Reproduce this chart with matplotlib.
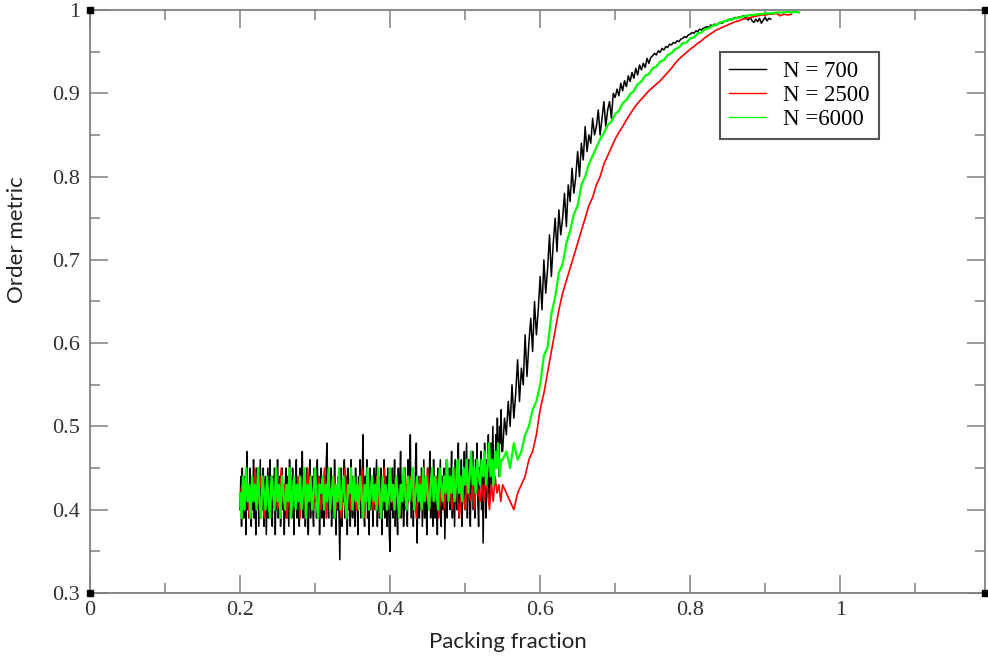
import numpy as np
import matplotlib
matplotlib.use("Agg")
import matplotlib.pyplot as plt
from matplotlib.ticker import MultipleLocator, FuncFormatter

# ---------------- data ----------------
labels = ["N = 700", "N = 2500", "N =6000"]
colors = ["black", "#ff0000", "#00ff00"]

# each series: flat part (start, step) and rising part (start, step)
black_grid = (0.200, 0.001, 0.550, 0.0025)
red_grid = (0.200, 0.0025, 0.555, 0.005)
green_grid = (0.200, 0.002, 0.550, 0.005)

black_flat = [
    .40, .44, .38, .45, .41, .39, .44, .42, .37, .47, .40, .43, .39, .45, .41, .38, .44, .40, .46, .39,
    .43, .37, .45, .41, .44, .38, .42, .46, .39, .43, .40, .45, .38, .42, .44, .37, .41, .45, .39, .43,
    .46, .40, .42, .38, .44, .41, .45, .37, .43, .40, .46, .39, .42, .44, .38, .41, .45, .40, .43, .37,
    .42, .45, .39, .44, .41, .38, .46, .40, .43, .39, .45, .42, .37, .44, .40, .46, .39, .43, .41, .38,
    .45, .40, .43, .47, .39, .42, .44, .38, .41, .45, .40, .37, .43, .46, .39, .42, .44, .40, .38, .45,
    .41, .43, .39, .46, .40, .44, .37, .42, .45, .39, .43, .41, .38, .44, .40, .46, .48, .41, .39, .43,
    .40, .45, .38, .42, .44, .39, .46, .41, .37, .43, .40, .44, .39, .34, .42, .45, .38, .43, .41, .46,
    .39, .42, .44, .37, .45, .40, .43, .38, .46, .41, .39, .44, .42, .38, .45, .40, .43, .37, .44, .41,
    .46, .39, .42, .45, .49, .40, .38, .44, .41, .46, .39, .43, .37, .45, .40, .42, .44, .38, .41, .45,
    .40, .43, .46, .38, .42, .44, .39, .41, .45, .37, .43, .40, .46, .39, .42, .44, .38, .45, .41, .37,
    .35, .43, .40, .45, .39, .42, .46, .38, .44, .41, .37, .45, .40, .43, .47, .39, .42, .44, .38, .41,
    .45, .40, .43, .38, .46, .41, .44, .49, .39, .42, .45, .38, .43, .40, .46, .48, .36, .42, .44, .39,
    .43, .40, .45, .38, .42, .46, .39, .44, .41, .37, .45, .40, .43, .47, .39, .42, .44, .38, .46, .41,
    .39, .44, .42, .37, .45, .40, .43, .46, .38, .42, .44, .40, .45, .365, .41, .46, .39, .43, .41, .45,
    .40, .43, .47, .39, .44, .41, .38, .46, .42, .40, .45, .48, .39, .43, .41, .46, .38, .44, .42, .47,
    .40, .44, .48, .39, .43, .46, .41, .38, .45, .42, .47, .40, .44, .39, .46, .42, .48, .41, .38, .45,
    .43, .47, .40, .45, .36, .42, .48, .44, .39, .46, .43, .49, .41, .45, .48, .42, .46, .50, .44, .47,
    .45, .49, .46, .51, .47, .44, .50, .48, .52, .47,
]
black_rise = [
    .47, .51, .49, .53, .50, .55, .51, .54, .58, .53, .57, .55, .61, .56, .60, .63, .59, .65, .61, .64,
    .68, .64, .70, .66, .69, .73, .68, .72, .75, .71, .76, .73, .75, .78, .74, .79, .77, .81, .78, .80,
    .83, .80, .84, .82, .86, .83, .85, .84, .87, .85, .86, .88, .85, .87, .89, .86, .88, .89, .87, .90,
    .895, .905, .897, .912, .903, .915, .908, .921, .914, .925, .918, .930, .922, .934, .928, .936, .931, .942, .936, .943,
    .945, .948, .946, .951, .949, .954, .952, .956, .955, .959, .958, .961, .960, .963, .962, .965, .966, .968, .967, .970,
    .971, .973, .972, .975, .974, .977, .976, .978, .979, .980, .979, .982, .981, .983, .982, .984, .985, .984, .986, .987,
    .987, .989, .988, .990, .991, .990, .992, .991, .993, .992, .990, .988, .991, .987, .985, .989, .986, .990, .984, .988,
    .991, .987, .990, .989,
]

red_flat = [
    .41, .43, .40, .44, .42, .39, .43, .41, .45, .40, .42, .44, .41, .39, .43, .42, .40, .44, .41, .43,
    .40, .42, .45, .41, .43, .39, .42, .44, .40, .43, .41, .44, .39, .42, .43, .40, .45, .41, .42, .40,
    .43, .41, .44, .40, .42, .45, .39, .43, .41, .42, .44, .40, .43, .41, .39, .42, .45, .41, .43, .40,
    .42, .44, .40, .43, .41, .45, .39, .42, .44, .41, .43, .40, .42, .44, .41, .39, .43, .45, .40, .42,
    .41, .43, .40, .44, .42, .39, .43, .41, .45, .40, .42, .44, .41, .43, .39, .42, .44, .40, .43, .41,
    .45, .40, .42, .43, .41, .44, .39, .42, .43, .40, .44, .41, .43, .40, .42, .45, .41, .39, .43, .42,
    .40, .44, .42, .41, .43, .40, .44, .42, .41, .43, .41, .44, .42, .40, .43, .41, .44, .42, .43, .41,
    .43,
]
red_rise = [
    .42, .41, .40, .42, .43, .44, .46, .47, .49, .52,
    .54, .565, .59, .615, .64, .66, .675, .69, .705, .72,
    .735, .75, .765, .775, .79, .80, .815, .825, .835, .845,
    .853, .86, .868, .875, .882, .888, .893, .898, .903, .907,
    .911, .915, .920, .925, .930, .936, .941, .945, .949, .953,
    .956, .960, .963, .967, .970, .973, .976, .978, .980, .982,
    .984, .986, .987, .989, .990, .991, .992, .993, .994, .994,
    .995, .995, .996, .993, .995, .994, .995,
]

green_flat = [
    .42, .39, .44, .40, .45, .41, .43, .39, .44, .41, .43, .40, .45, .41, .39, .44, .42, .40, .44, .41,
    .39, .44, .42, .40, .45, .41, .43, .39, .44, .42, .40, .43, .41, .45, .39, .42, .44, .40, .43, .41,
    .44, .40, .42, .45, .39, .43, .41, .44, .40, .42, .45, .41, .39, .43, .42, .44, .40, .43, .41, .45,
    .40, .42, .44, .39, .43, .41, .45, .40, .42, .44, .41, .39, .43, .42, .45, .40, .44, .41, .43, .40,
    .44, .42, .39, .43, .41, .45, .40, .42, .44, .41, .43, .40, .45, .42, .39, .44, .41, .43, .40, .42,
    .45, .41, .43, .40, .44, .42, .39, .43, .41, .45, .42, .40, .44, .41, .43, .45, .40, .42, .44, .41,
    .43, .40, .45, .41, .44, .42, .40, .43, .45, .41, .44, .42, .40, .45, .43, .41, .44, .42, .46, .41,
    .44, .42, .45, .41, .43, .46, .42, .44, .41, .45, .43, .46, .42, .44, .47, .43, .45, .42, .46, .44,
    .43, .46, .44, .47, .43, .45, .48, .44, .46, .43, .47, .45, .48, .44, .46,
]
green_rise = [
    .46, .47, .45, .48, .46, .47, .49, .50, .52, .53,
    .55, .585, .595, .635, .655, .685, .695, .72, .735, .755,
    .765, .79, .80, .815, .825, .835, .845, .852, .862, .866,
    .875, .879, .888, .892, .899, .903, .911, .914, .921, .923,
    .930, .932, .938, .940, .946, .948, .953, .955, .960, .961,
    .966, .967, .972, .973, .977, .978, .981, .982, .985, .986,
    .988, .989, .990, .991, .992, .993, .994, .994, .995, .995,
    .996, .996, .996, .997, .997, .997, .998, .997, .998, .997,
]

x_ticks = [0, 0.2, 0.4, 0.6, 0.8, 1.0]
y_ticks = [0.3, 0.4, 0.5, 0.6, 0.7, 0.8, 0.9, 1.0]
x_label = "Packing fraction"
y_label = "Order metric"


def series_xy(flat, rise, grid):
    fs, fstep, rs, rstep = grid
    xf = fs + fstep * np.arange(len(flat))
    xr = rs + rstep * np.arange(len(rise))
    return np.concatenate([xf, xr]), np.concatenate([flat, rise])


series = [(black_flat, black_rise, black_grid, 1.1),
          (red_flat, red_rise, red_grid, 1.2),
          (green_flat, green_rise, green_grid, 1.6)]

# ---------------- figure ----------------
W, H = 988, 660
fig = plt.figure(figsize=(W / 100, H / 100), dpi=100)
ax = fig.add_axes([90 / W, 67 / H, 895 / W, 583 / H])

for (fl, rs, grid, lw), c, lab in zip(series, colors, labels):
    xs, ys = series_xy(fl, rs, grid)
    ax.plot(xs, ys, color=c, lw=lw, label=lab)

ax.set_xlim(0, 1.193)
ax.set_ylim(0.3, 1.0)
ax.set_xticks(x_ticks)
ax.set_yticks(y_ticks)
ax.xaxis.set_minor_locator(MultipleLocator(0.1))
ax.yaxis.set_minor_locator(MultipleLocator(0.05))
fmt = FuncFormatter(lambda v, p: f"{v:g}")
ax.xaxis.set_major_formatter(fmt)
ax.yaxis.set_major_formatter(fmt)

grey = "#808080"
for s in ax.spines.values():
    s.set_color(grey)
    s.set_linewidth(1.3)

ax.tick_params(which="both", direction="in", top=True, right=True,
               color=grey, width=1.1)
ax.tick_params(which="major", length=13)
ax.tick_params(which="minor", length=7)
ax.tick_params(axis="y", which="major", pad=7)
ax.tick_params(axis="x", which="major", pad=6)
for lab in ax.get_xticklabels() + ax.get_yticklabels():
    lab.set_fontfamily("Liberation Serif")
    lab.set_fontsize(16)
    lab.set_color("#333333")

# corner squares
for cx, cy in [(0, 0), (1, 0), (0, 1), (1, 1)]:
    ax.plot([cx], [cy], marker="s", ms=5, color="black",
            transform=ax.transAxes, clip_on=False, zorder=10)

leg = ax.legend(loc="upper left",
                bbox_to_anchor=(720 / W, 1 - 52 / H),
                bbox_transform=fig.transFigure,
                prop={"family": "Liberation Serif", "size": 16.5},
                frameon=True, fancybox=False, framealpha=1,
                edgecolor="#555555", borderpad=0.4,
                handlelength=1.6, handletextpad=0.75,
                labelspacing=0.12, borderaxespad=0)
leg.get_frame().set_linewidth(1.5)
for line in leg.get_lines():
    line.set_linewidth(1.0)

fig.text(508 / W, 1 - 642 / H, x_label, ha="center", va="center",
         fontsize=16, family="Lato", color="#222222")
fig.text(17 / W, 1 - 240 / H, y_label, ha="center", va="center",
         rotation=90, fontsize=16, family="Lato", color="#222222")

fig.savefig("out.png", dpi=100)
